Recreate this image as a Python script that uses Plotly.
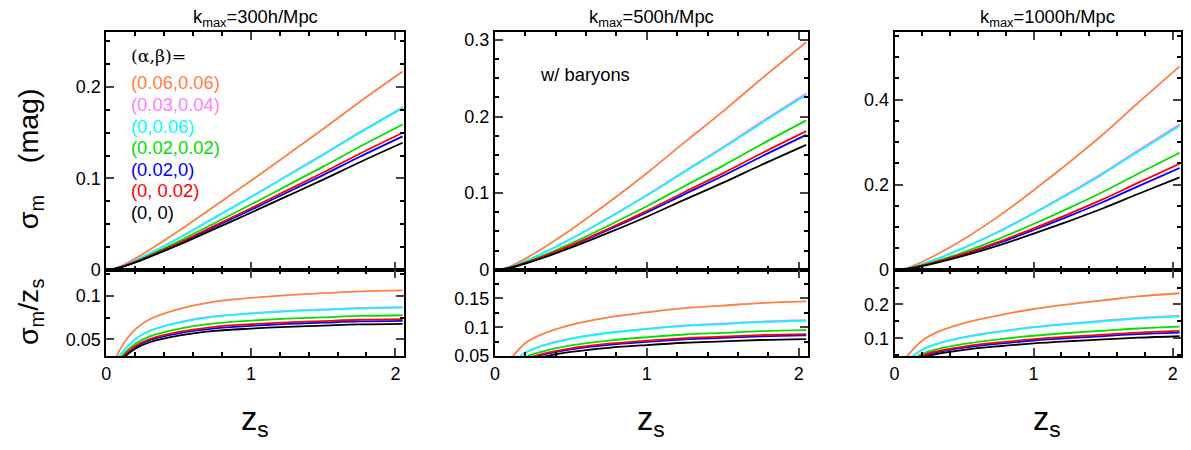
import plotly.graph_objects as go

# redshift grid
z = [0.05, 0.1, 0.2, 0.3, 0.5, 0.75, 1.0, 1.25, 1.5, 1.75, 2.05]

labels = ["(0.06,0.06)", "(0.03,0.04)", "(0,0.06)", "(0.02,0.02)", "(0.02,0)", "(0, 0.02)", "(0, 0)"]
colors = ["#FF7F3F", "#FF80FF", "#00FFFF", "#00E000", "#0000FF", "#FF0000", "#000000"]

# sigma_m at z=2.05 for each curve, per panel
end_300 = [0.217, 0.178, 0.177, 0.159, 0.146, 0.150, 0.139]
end_500 = [0.297, 0.230, 0.228, 0.195, 0.176, 0.181, 0.163]
end_1000 = [0.478, 0.342, 0.338, 0.275, 0.239, 0.249, 0.217]

# sigma_m/z_s relative to its value at z=2.05, read per panel
shape_300 = [0.2, 0.38, 0.58, 0.69, 0.8, 0.88, 0.92, 0.95, 0.97, 0.99, 1.0]
shape_500 = [0.15, 0.3, 0.5, 0.6, 0.72, 0.81, 0.87, 0.92, 0.95, 0.98, 1.0]
shape_1000 = [0.1, 0.22, 0.4, 0.5, 0.62, 0.72, 0.8, 0.86, 0.91, 0.96, 1.0]

panels = [
    ("k<sub>max</sub>=300h/Mpc", end_300, shape_300, [0, 0.26], [0.031, 0.1295], [0, 0.1, 0.2], [0.05, 0.1]),
    ("k<sub>max</sub>=500h/Mpc", end_500, shape_500, [0, 0.31], [0.05, 0.2], [0, 0.1, 0.2, 0.3], [0.05, 0.1, 0.15]),
    ("k<sub>max</sub>=1000h/Mpc", end_1000, shape_1000, [0, 0.558], [0.047, 0.303], [0, 0.2, 0.4], [0.1, 0.2]),
]

OFF = 8
W, H = 1191 - 2 * OFF, 450 - 2 * OFF
xpix = [(105, 400), (490, 800), (886, 1189)]
fig = go.Figure()
font = "Liberation Sans, Arial"
FS = 1.02  # font scale

def px_(p):
    p = (p - 4.6) / 0.985
    return (p - OFF) / W

def py(p):
    p = (p - 0.7) / 0.979
    return 1 - (p - OFF) / H

def note(x, y, text, size, color="black", family=font, **kw):
    fig.add_annotation(x=px_(x), y=py(y), xref="paper", yref="paper", text=text, showarrow=False,
                       xanchor=kw.pop("xanchor", "center"), yanchor="middle",
                       font=dict(size=size * FS, family=family, color=color), **kw)

for i, (title, ends, shape, rtop, rbot, ttop, tbot) in enumerate(panels):
    top = 2 * i + 1
    bot = 2 * i + 2
    for lab, col, e in zip(labels, colors, ends):
        ratio = [s * e / 2.05 for s in shape]
        sig = [r * zz for r, zz in zip(ratio, z)]
        fig.add_trace(go.Scatter(x=z, y=sig, mode="lines", line=dict(color=col, width=1.8, shape="spline"),
                                 xaxis=f"x{top}", yaxis=f"y{top}", showlegend=False, name=lab))
        fig.add_trace(go.Scatter(x=z, y=ratio, mode="lines", line=dict(color=col, width=1.8, shape="spline"),
                                 xaxis=f"x{bot}", yaxis=f"y{bot}", showlegend=False, name=lab))
    dom = [px_(xpix[i][0]), min(1, px_(xpix[i][1]))]
    common = dict(range=[0, 2.06], showline=True, linecolor="black", linewidth=2, mirror="ticks",
                  ticks="inside", ticklen=8, tickwidth=1.5, showgrid=False, zeroline=False,
                  minor=dict(ticks="inside", ticklen=4, dtick=0.2, tickcolor="black"),
                  domain=dom, tickfont=dict(size=18, family=font, color="black"))
    fig.layout[f"xaxis{top}"] = dict(common, anchor=f"y{top}", tickvals=[0, 1, 2], showticklabels=False)
    fig.layout[f"xaxis{bot}"] = dict(common, anchor=f"y{bot}", tickvals=[0, 1, 2])
    ycommon = dict(showline=True, linecolor="black", linewidth=2, mirror="ticks", ticks="inside",
                   ticklen=8, tickwidth=1.5, showgrid=False, zeroline=False,
                   tickfont=dict(size=18, family=font, color="black"))
    dt_top = ttop[1] - ttop[0]
    fig.layout[f"yaxis{top}"] = dict(ycommon, anchor=f"x{top}", range=rtop, tickvals=ttop,
                                     domain=[py(270), py(31)],
                                     minor=dict(ticks="inside", ticklen=4, dtick=dt_top / 4, tickcolor="black"))
    dt_bot = tbot[1] - tbot[0]
    fig.layout[f"yaxis{bot}"] = dict(ycommon, anchor=f"x{bot}", range=rbot, tickvals=tbot,
                                     domain=[py(357), py(270)],
                                     minor=dict(ticks="inside", ticklen=4, dtick=dt_bot / 2, tickcolor="black"))
    cx = (xpix[i][0] + xpix[i][1]) / 2
    note(cx, 17, title, 18)
    note(cx, 422, "z<sub>s</sub>", 32)

# y titles
note(30, 158, "σ<sub>m</sub>    (mag)", 28, textangle=-90)
note(30, 312, "σ<sub>m</sub>/z<sub>s</sub>", 28, textangle=-90)

# legend text
note(127, 55, "(α,β)=", 17, family="DejaVu Serif", xanchor="left")
for k, (lab, col) in enumerate(zip(labels, colors)):
    note(127, 82 + 21.7 * k, lab, 18, color=col, xanchor="left")
note(533, 73, "w/ baryons", 18, xanchor="left")

fig.update_layout(width=W, height=H, margin=dict(l=0, r=0, t=0, b=0),
                  plot_bgcolor="white", paper_bgcolor="white")
fig.write_html("out.html")
